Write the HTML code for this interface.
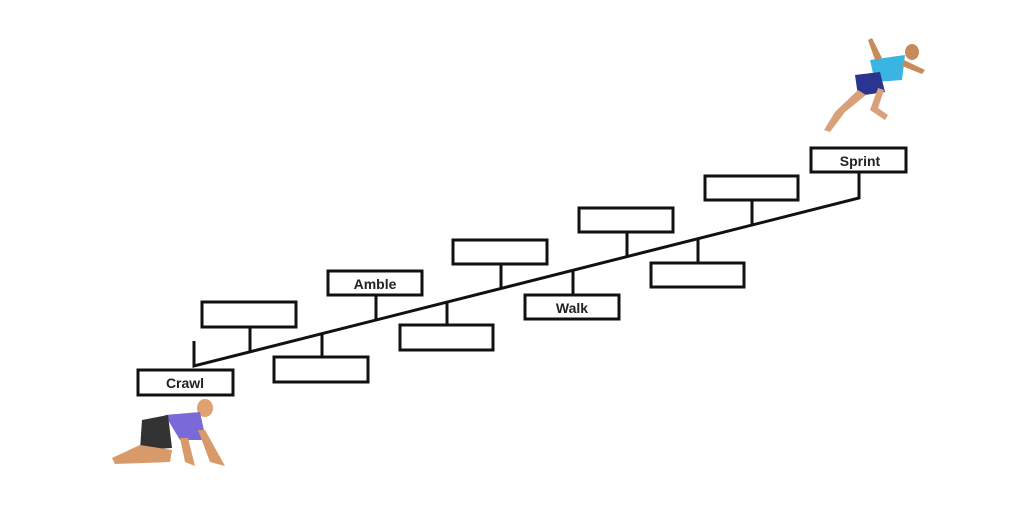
<!DOCTYPE html>
<html><head><style>
body{margin:0;background:#fff;}
svg{display:block}
text{font-family:"Liberation Sans",sans-serif;font-weight:bold;font-size:14px;fill:#222}
</style></head><body>
<svg width="1013" height="505" viewBox="0 0 1013 505">
<g stroke="#111" stroke-width="3" fill="#fff">
<polyline points="194,341 194,366 859,198 859,172" fill="none"/>
<line x1="250" y1="327" x2="250" y2="352"/>
<line x1="322" y1="334" x2="322" y2="358"/>
<line x1="376" y1="295" x2="376" y2="320"/>
<line x1="447" y1="302" x2="447" y2="326"/>
<line x1="501" y1="264" x2="501" y2="288"/>
<line x1="573" y1="270" x2="573" y2="296"/>
<line x1="627" y1="232" x2="627" y2="257"/>
<line x1="698" y1="239" x2="698" y2="264"/>
<line x1="752" y1="200" x2="752" y2="225"/>
<rect x="138" y="370" width="95" height="25"/>
<rect x="202" y="302" width="94" height="25"/>
<rect x="274" y="357" width="94" height="25"/>
<rect x="328" y="271" width="94" height="24"/>
<rect x="400" y="325" width="93" height="25"/>
<rect x="453" y="240" width="94" height="24"/>
<rect x="525" y="295" width="94" height="24"/>
<rect x="579" y="208" width="94" height="24"/>
<rect x="651" y="263" width="93" height="24"/>
<rect x="705" y="176" width="93" height="24"/>
<rect x="811" y="148" width="95" height="24"/>
</g>
<text x="185" y="388" text-anchor="middle">Crawl</text>
<text x="375" y="289" text-anchor="middle">Amble</text>
<text x="572" y="313" text-anchor="middle">Walk</text>
<text x="860" y="166" text-anchor="middle">Sprint</text>
<!-- crawler -->
<g>
<ellipse cx="205" cy="408" rx="8" ry="9" fill="#e0a070"/>
<path d="M165 415 L200 412 L206 440 L180 440 Z" fill="#7a6ad8"/>
<path d="M142 420 L168 415 L172 448 L140 450 Z" fill="#333"/>
<path d="M140 445 L112 458 L115 464 L170 462 L172 450 Z" fill="#d99a6a"/>
<path d="M198 430 L210 462 L225 466 L205 430 Z" fill="#d99a6a"/>
<path d="M180 438 L185 462 L195 466 L188 438 Z" fill="#d99a6a"/>
</g>
<!-- sprinter -->
<g>
<ellipse cx="912" cy="52" rx="7" ry="8" fill="#c98a5a"/>
<path d="M870 60 L905 55 L902 80 L875 82 Z" fill="#3ab4e0"/>
<path d="M855 75 L880 72 L885 92 L858 96 Z" fill="#2a3590"/>
<path d="M858 90 L835 112 L824 130 L830 132 L845 112 L866 95 Z" fill="#d9a07a"/>
<path d="M878 88 L870 110 L885 120 L888 115 L878 108 L884 90 Z" fill="#d9a07a"/>
<path d="M904 60 L925 70 L922 74 L902 66 Z" fill="#c98a5a"/>
<path d="M875 60 L868 40 L872 38 L882 58 Z" fill="#c98a5a"/>
</g>
</svg>
</body></html>
